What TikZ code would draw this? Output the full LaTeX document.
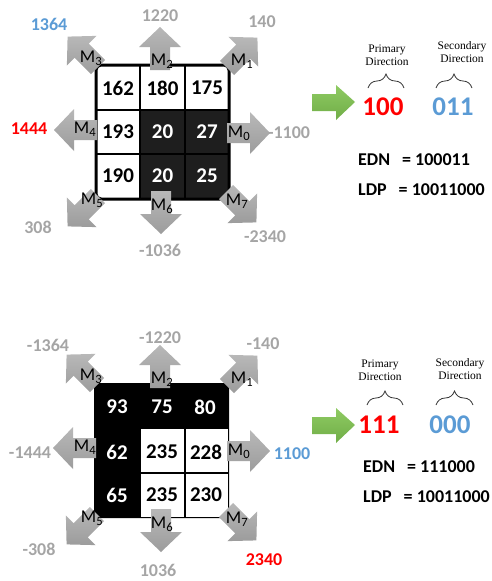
\documentclass[tikz,border=0pt]{standalone}
\usepackage{fontspec}
\setmainfont{Carlito}
\newfontfamily\notefont{Liberation Serif}
\usetikzlibrary{decorations.pathreplacing}
\definecolor{lblgray}{HTML}{A5A5A5}
\definecolor{lblblue}{HTML}{5B9BD5}
\definecolor{lblred}{HTML}{FF0000}
\definecolor{arrgray}{HTML}{9C9C9C}
\definecolor{arrlight}{HTML}{B8B8B8}
\definecolor{darkcell}{HTML}{1E1E1E}
\definecolor{grn}{HTML}{70AD47}
\definecolor{grnlight}{HTML}{8FCB63}

% grey direction arrow, base at the origin, pointing along +x
\newcommand{\dirarrow}[3]{%
  \shade[top color=arrlight,bottom color=arrgray,shift={(#1,#2)},rotate=#3]
    (0,-10) -- (23,-10) -- (23,-21) -- (43,0) -- (23,21) -- (23,10) -- (0,10) -- cycle;}
% mask label M with its index
\newcommand{\mk}[1]{M\textsubscript{#1}}

\tikzset{
  cellnum/.style={font=\bfseries\fontsize{21}{21}\selectfont,inner sep=0pt},
  mlabel/.style={font=\fontsize{18}{18}\selectfont,inner sep=0pt},
  val/.style={font=\bfseries\fontsize{18}{18}\selectfont,inner sep=0pt,text=lblgray},
  code/.style={font=\bfseries\fontsize{27}{27}\selectfont,inner sep=0pt},
  note/.style={font=\notefont\fontsize{11.5}{13}\selectfont,align=center,inner sep=0pt},
  eqn/.style={font=\bfseries\fontsize{18}{18}\selectfont,inner sep=0pt,anchor=west},
  bracemark/.style={decorate,decoration={brace,amplitude=14pt},line width=0.8pt,draw=black!80},
  greenarrow/.style={top color=grnlight,bottom color=grn},
}

\begin{document}
\begin{tikzpicture}[x=1pt,y=-1pt]
\useasboundingbox (0,0) rectangle (492,581);

%================ upper example =================
% cells
\fill[white] (96,65) rectangle (229,199);
\fill[darkcell] (140,110) rectangle (229,199);
\draw[line width=2pt] (140,65) -- (140,199) (185,65) -- (185,199)
                      (96,110) -- (229,110) (96,154) -- (229,154);
\draw[line width=3pt,rounded corners=5pt] (96,65) rectangle (229,199);

% arrows
\dirarrow{227}{133}{0}
\dirarrow{227}{68}{45}
\dirarrow{160}{70}{90}
\dirarrow{98}{67}{135}
\dirarrow{97}{130}{180}
\dirarrow{98}{196}{225}
\dirarrow{161}{191}{270}
\dirarrow{226}{192}{315}

\node[mlabel] (a0) at (239,133) {\mk{0}};
\node[mlabel] (a1) at (242,61) {\mk{1}};
\node[mlabel] (a2) at (162,61) {\mk{2}};
\node[mlabel] (a3) at (91,58) {\mk{3}};
\node[mlabel] (a4) at (85,129) {\mk{4}};
\node[mlabel] (a5) at (92,200) {\mk{5}};
\node[mlabel] (a6) at (162,206) {\mk{6}};
\node[mlabel] (a7) at (237,201) {\mk{7}};

\node[cellnum] (u11) at (118,88) {162};
\node[cellnum] (u12) at (162.5,88) {180};
\node[cellnum] (u13) at (207,88) {175};
\node[cellnum] (u21) at (118,132) {193};
\node[cellnum,text=white] (u22) at (162.5,132) {20};
\node[cellnum,text=white] (u23) at (207,132) {27};
\node[cellnum] (u31) at (118,176) {190};
\node[cellnum,text=white] (u32) at (162.5,176) {20};
\node[cellnum,text=white] (u33) at (207,176) {25};

\node[val,text=lblblue] (v3) at (49,24) {1364};
\node[val] (v2) at (160,16) {1220};
\node[val] (v1) at (262,22) {140};
\node[val,text=lblred] (v4) at (29,129) {1444};
\node[val] (v0) at (289,133) {-1100};
\node[val] (v5) at (38,227) {308};
\node[val] (v6) at (160,250) {-1036};
\node[val] (v7) at (265,237) {-2340};

\shade[greenarrow] (312,94) -- (336,94) -- (336,85) -- (355,102) -- (336,120) -- (336,111) -- (312,111) -- cycle;
\node[code,text=lblred] (p1) at (383,107) {100};
\node[code,text=lblblue] (s1) at (453,107) {011};
\node[note] (pn1) at (387,55) {Primary\\Direction};
\node[note] (sn1) at (462,52) {Secondary\\Direction};
\coordinate (pb1l) at (368,88); \coordinate (pb1r) at (404,88);
\coordinate (sb1l) at (436,88); \coordinate (sb1r) at (472,88);
\draw[bracemark] (pb1l) -- (pb1r);
\draw[bracemark] (sb1l) -- (sb1r);
\node[eqn] (e1) at (358,160) {EDN\hspace{12pt}= 100011};
\node[eqn] (l1) at (358,190) {LDP\hspace{12pt}= 10011000};

%================ lower example =================
\fill[black,rounded corners=5pt] (94,383) rectangle (229,518);
\fill[white] (141,429) rectangle (183.5,472);
\fill[white] (185.5,429) rectangle (227.5,472);
\fill[white] (141,474) rectangle (183.5,516.5);
\fill[white] (185.5,474) rectangle (227.5,516.5);

\dirarrow{227}{451}{0}
\dirarrow{227}{386}{45}
\dirarrow{160}{388}{90}
\dirarrow{97}{385}{135}
\dirarrow{96}{448}{180}
\dirarrow{97}{514}{225}
\dirarrow{161}{509}{270}
\dirarrow{226}{510}{315}

\node[mlabel] (b0) at (239,451) {\mk{0}};
\node[mlabel] (b1) at (242,379) {\mk{1}};
\node[mlabel] (b2) at (162,379) {\mk{2}};
\node[mlabel] (b3) at (91,376) {\mk{3}};
\node[mlabel] (b4) at (85,447) {\mk{4}};
\node[mlabel] (b5) at (92,518) {\mk{5}};
\node[mlabel] (b6) at (162,524) {\mk{6}};
\node[mlabel] (b7) at (237,519) {\mk{7}};

\node[cellnum,text=white] (d11) at (117,407) {93};
\node[cellnum,text=white] (d12) at (162,407) {75};
\node[cellnum,text=white] (d13) at (205,407) {80};
\node[cellnum,text=white] (d21) at (117,452) {62};
\node[cellnum] (d22) at (162,452) {235};
\node[cellnum] (d23) at (206,452) {228};
\node[cellnum,text=white] (d31) at (117,495) {65};
\node[cellnum] (d32) at (162,495) {235};
\node[cellnum] (d33) at (206,495) {230};

\node[val] (w3) at (48,345) {-1364};
\node[val] (w2) at (160,338) {-1220};
\node[val] (w1) at (263,344) {-140};
\node[val] (w4) at (30,453) {-1444};
\node[val,text=lblblue] (w0) at (292,454) {1100};
\node[val] (w5) at (39,549) {-308};
\node[val] (w6) at (158,570) {1036};
\node[val,text=lblred] (w7) at (264,560) {2340};

\shade[greenarrow] (312,417) -- (336,417) -- (336,408) -- (355,425) -- (336,443) -- (336,434) -- (312,434) -- cycle;
\node[code,text=lblred] (p2) at (379,425) {111};
\node[code,text=lblblue] (s2) at (450,425) {000};
\node[note] (pn2) at (380,370) {Primary\\Direction};
\node[note] (sn2) at (460,369) {Secondary\\Direction};
\coordinate (pb2l) at (367,405); \coordinate (pb2r) at (403,405);
\coordinate (sb2l) at (436,405); \coordinate (sb2r) at (473,405);
\draw[bracemark] (pb2l) -- (pb2r);
\draw[bracemark] (sb2l) -- (sb2r);
\node[eqn] (e2) at (363,467) {EDN\hspace{12pt}= 111000};
\node[eqn] (l2) at (363,497) {LDP\hspace{12pt}= 10011000};
\end{tikzpicture}
\end{document}
